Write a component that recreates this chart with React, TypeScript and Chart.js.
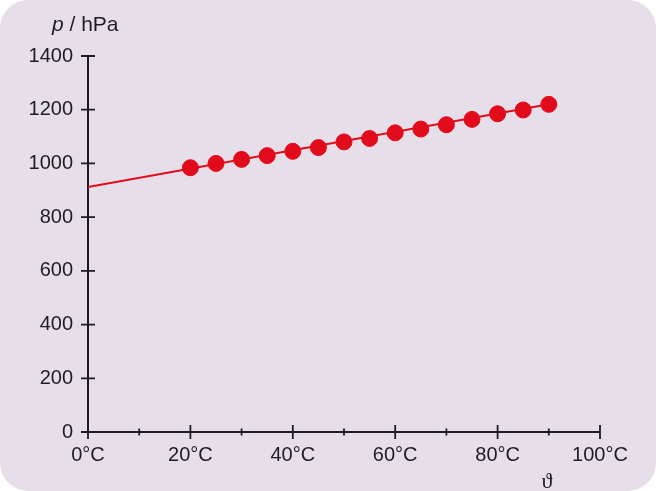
import React, { useEffect, useRef } from "react";
import { Chart, registerables } from "chart.js";

Chart.register(...registerables);

const temperatures = [20, 25, 30, 35, 40, 45, 50, 55, 60, 65, 70, 75, 80, 85, 90];
const pressures = [984, 1000, 1015, 1029, 1045, 1059, 1080, 1093, 1114, 1128, 1144, 1164, 1185, 1199, 1220];
const fitX = [0, 90];
const fitY = [912, 1220];
const xMajorTicks = [0, 20, 40, 60, 80, 100];
const xMinorTicks = [10, 30, 50, 70, 90];
const yTicks = [0, 200, 400, 600, 800, 1000, 1200, 1400];

const BG = "#e6dfea";
const INK = "#1e1e1e";
const RED = "#e20b1b";
const FONT = "'Liberation Sans', Arial, sans-serif";

const axesPlugin = {
  id: "customAxes",
  beforeDatasetsDraw(chart: any) {
    const ctx = chart.ctx;
    const xs = chart.scales.x;
    const ys = chart.scales.y;
    const x0 = xs.getPixelForValue(0);
    const y0 = ys.getPixelForValue(0);
    ctx.save();
    ctx.strokeStyle = INK;
    ctx.lineWidth = 2;
    ctx.beginPath();
    ctx.moveTo(x0, y0);
    ctx.lineTo(x0, ys.getPixelForValue(1400));
    ctx.moveTo(x0 - 7, y0);
    ctx.lineTo(xs.getPixelForValue(100), y0);
    ctx.stroke();
    ctx.lineWidth = 1.8;
    ctx.beginPath();
    yTicks.forEach((v) => {
      const py = ys.getPixelForValue(v);
      ctx.moveTo(x0 - 7, py);
      ctx.lineTo(x0 + 7, py);
    });
    xMajorTicks.forEach((v) => {
      const px = xs.getPixelForValue(v);
      ctx.moveTo(px, y0 - 7);
      ctx.lineTo(px, y0 + 7);
    });
    xMinorTicks.forEach((v) => {
      const px = xs.getPixelForValue(v);
      ctx.moveTo(px, y0 - 3.5);
      ctx.lineTo(px, y0 + 3.5);
    });
    ctx.stroke();
    ctx.restore();
  },
  afterDraw(chart: any) {
    const ctx = chart.ctx;
    ctx.save();
    ctx.fillStyle = INK;
    ctx.textBaseline = "alphabetic";
    ctx.textAlign = "left";
    ctx.font = `italic 21px ${FONT}`;
    ctx.fillText("p", 52, 31);
    const w = ctx.measureText("p").width;
    ctx.font = `21px ${FONT}`;
    ctx.fillText(" / hPa", 52 + w, 31);
    ctx.font = `22px 'Liberation Serif', 'DejaVu Serif', serif`;
    ctx.textAlign = "center";
    ctx.fillText("\u03D1", 547, 488);
    ctx.restore();
  },
};

export default function App() {
  const ref = useRef<HTMLCanvasElement | null>(null);
  useEffect(() => {
    if (!ref.current) return;
    const chart = new Chart(ref.current, {
      type: "scatter",
      data: {
        datasets: [
          {
            label: "Messwerte",
            data: temperatures.map((t, i) => ({ x: t, y: pressures[i] })),
            backgroundColor: RED,
            borderColor: RED,
            pointRadius: 8,
            pointHoverRadius: 8,
            showLine: false,
            order: 0,
          },
          {
            label: "Ausgleichsgerade",
            data: fitX.map((t, i) => ({ x: t, y: fitY[i] })),
            borderColor: RED,
            borderWidth: 2,
            pointRadius: 0,
            showLine: true,
            order: 1,
          },
        ],
      },
      options: {
        responsive: false,
        animation: false,
        events: [],
        layout: { padding: { left: 0, top: 56, right: 56, bottom: 0 } },
        plugins: { legend: { display: false }, tooltip: { enabled: false } },
        scales: {
          x: {
            type: "linear",
            min: 0,
            max: 100,
            grid: { display: false, drawTicks: false },
            border: { display: false },
            afterFit: (s: any) => {
              s.height = 59;
            },
            afterBuildTicks: (s: any) => {
              s.ticks = xMajorTicks.map((v) => ({ value: v }));
            },
            ticks: {
              color: INK,
              padding: 11,
              maxRotation: 0,
              font: { family: FONT, size: 20 },
              callback: (v: any) => `${v}°C`,
            },
          },
          y: {
            type: "linear",
            min: 0,
            max: 1400,
            grid: { display: false, drawTicks: false },
            border: { display: false },
            afterFit: (s: any) => {
              s.width = 88;
            },
            afterBuildTicks: (s: any) => {
              s.ticks = yTicks.map((v) => ({ value: v }));
            },
            ticks: {
              color: INK,
              padding: 15,
              font: { family: FONT, size: 20 },
              callback: (v: any) => String(v),
            },
          },
        },
      },
      plugins: [axesPlugin],
    });
    return () => chart.destroy();
  }, []);
  return (
    <div
      style={{
        position: "fixed",
        left: 0,
        top: 0,
        width: 656,
        height: 491,
        borderRadius: 28,
        background: BG,
        overflow: "hidden",
      }}
    >
      <canvas ref={ref} width={656} height={491} style={{ display: "block" }} />
    </div>
  );
}
